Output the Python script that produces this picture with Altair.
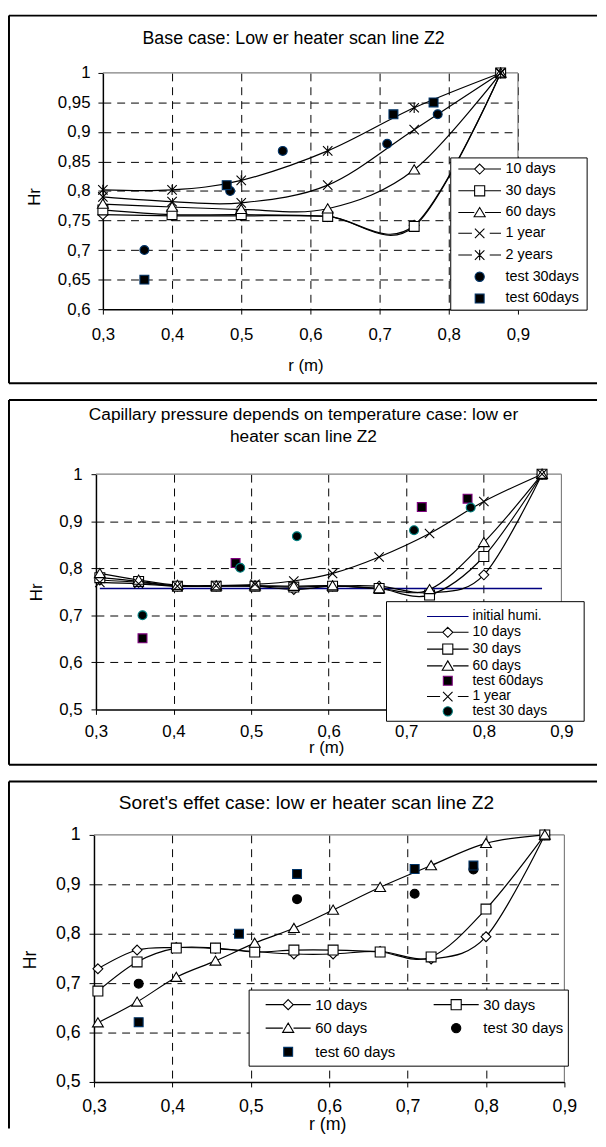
import altair as alt
import pandas as pd

FONT = "Liberation Sans"

X_TICKS = [0.3, 0.4, 0.5, 0.6, 0.7, 0.8, 0.9]
Y_TICKS_1 = [0.6, 0.65, 0.7, 0.75, 0.8, 0.85, 0.9, 0.95, 1.0]
Y_TICKS_23 = [0.5, 0.6, 0.7, 0.8, 0.9, 1.0]

# ---------------- Panel 1 : base case ----------------
p1_r = [0.3, 0.4, 0.5, 0.625, 0.75, 0.875]
p1_10d = [0.760, 0.758, 0.758, 0.757, 0.742, 1.0]
p1_30d = [0.768, 0.760, 0.760, 0.757, 0.740, 1.0]
p1_60d = [0.778, 0.773, 0.769, 0.770, 0.836, 1.0]
p1_1y = [0.790, 0.782, 0.780, 0.810, 0.904, 1.0]
p1_2y = [0.802, 0.802, 0.818, 0.868, 0.941, 1.0]
p1_t30_r = [0.36, 0.484, 0.56, 0.711, 0.784]
p1_t30 = [0.70, 0.80, 0.868, 0.88, 0.93]
p1_t60_r = [0.36, 0.479, 0.72, 0.778]
p1_t60 = [0.65, 0.81, 0.93, 0.95]

# ---------------- Panel 2 : capillary pressure ----------------
p2_r = [0.305, 0.355, 0.405, 0.455, 0.505, 0.555, 0.605, 0.665, 0.73, 0.8, 0.875]
p2_init_r = [0.305, 0.875]
p2_init = [0.757, 0.757]
p2_10d = [0.775, 0.770, 0.762, 0.762, 0.762, 0.755, 0.762, 0.762, 0.748, 0.786, 1.0]
p2_30d = [0.780, 0.772, 0.762, 0.762, 0.762, 0.760, 0.762, 0.757, 0.743, 0.825, 1.0]
p2_60d = [0.789, 0.775, 0.764, 0.763, 0.763, 0.762, 0.763, 0.757, 0.755, 0.855, 1.0]
p2_1y = [0.770, 0.767, 0.762, 0.763, 0.766, 0.773, 0.789, 0.824, 0.874, 0.942, 1.0]
p2_t60_r = [0.36, 0.48, 0.72, 0.779]
p2_t60 = [0.651, 0.811, 0.93, 0.948]
p2_t30_r = [0.36, 0.486, 0.559, 0.71, 0.783]
p2_t30 = [0.70, 0.801, 0.868, 0.881, 0.929]

# ---------------- Panel 3 : Soret effect ----------------
p3_r = [0.305, 0.355, 0.405, 0.455, 0.505, 0.555, 0.605, 0.665, 0.73, 0.8, 0.875]
p3_10d = [0.729, 0.767, 0.772, 0.770, 0.764, 0.759, 0.759, 0.764, 0.749, 0.794, 1.0]
p3_30d = [0.684, 0.743, 0.771, 0.771, 0.763, 0.767, 0.767, 0.763, 0.753, 0.850, 1.0]
p3_60d = [0.620, 0.662, 0.712, 0.745, 0.781, 0.811, 0.848, 0.894, 0.938, 0.983, 1.0]
p3_t30_r = [0.357, 0.559, 0.709, 0.784]
p3_t30 = [0.699, 0.870, 0.881, 0.930]
p3_t60_r = [0.357, 0.485, 0.559, 0.709, 0.784]
p3_t60 = [0.621, 0.800, 0.921, 0.931, 0.938]


def make_df(series):
    rows = []
    for name, rs, vals in series:
        for r, v in zip(rs, vals):
            rows.append({"series": name, "r": r, "Hr": v})
    return pd.DataFrame(rows)


ONE = pd.DataFrame({"k": [0]})

# ---- marker shapes (unit paths) ----
def p_diamond(h):
    return f"M0,{-h}L{h},0L0,{h}L{-h},0Z"

def p_square(h):
    return f"M{-h},{-h}L{h},{-h}L{h},{h}L{-h},{h}Z"

def p_tri(h):
    return f"M0,{-h*1.0}L{h*1.1},{h*0.85}L{-h*1.1},{h*0.85}Z"

def p_x(h):
    return f"M{-h},{-h}L{h},{h}M{-h},{h}L{h},{-h}"

def p_star(h):
    return p_x(h) + f"M0,{-h*1.1}L0,{h*1.1}"

def p_circle(r):
    return f"M{-r},0A{r},{r} 0 1,0 {r},0A{r},{r} 0 1,0 {-r},0Z"

def p_line(L, gl, gr):
    return f"M{-L},0L{-gl},0M{gr},0L{L},0"

MK = {
    "diamond": p_diamond(1.0), "square": p_square(1.0), "tri": p_tri(1.0),
    "x": p_x(0.95), "star": p_star(0.95), "circle": p_circle(0.9), "tsq": p_square(0.9),
}


def leg_shape(kind, L):
    if kind == "diamond":
        return p_line(L, 0.85, 0.85) + p_diamond(0.85)
    if kind == "square":
        return p_line(L, 0.85, 0.85) + p_square(0.85)
    if kind == "tri":
        return p_line(L, 0.9, 0.9) + p_tri(0.85)
    if kind == "x":
        return p_line(L, 1.3, 1.7) + p_x(0.8)
    if kind == "star":
        return p_line(L, 1.3, 1.7) + p_star(0.8)
    if kind == "circle":
        return p_circle(0.78)
    if kind == "tsq":
        return p_square(0.75)
    if kind == "line":
        return f"M{-L},0L{L},0"


def rule(x, x2, y, y2=None, color="black", width=2.0):
    enc = dict(x=alt.value(x), y=alt.value(y))
    if x2 is not None:
        enc["x2"] = alt.value(x2)
    if y2 is not None:
        enc["y2"] = alt.value(y2)
    return alt.Chart(ONE).mark_rule(color=color, strokeWidth=width).encode(**enc)


def text(t, x, y, fs):
    return alt.Chart(ONE).mark_text(text=t, font=FONT, fontSize=fs, align="center",
                                    baseline="middle", color="black").encode(
        x=alt.value(x), y=alt.value(y))


def axis_common(P):
    return dict(format="~g", labelExpr="replace(datum.label, '.', ',')",
                labelFont=FONT, labelFontSize=P["tick_fs"], labelColor="black",
                labelFlush=False, labelOverlap=False,
                titleFont=FONT, titleFontSize=P["atitle_fs"], titleFontWeight="normal",
                titleColor="black", titleAlign="center", titleBaseline="middle",
                tickSize=5, tickColor="black", tickWidth=1,
                domainColor="black", domainWidth=1.5,
                grid=True, gridColor="black", gridDash=[8, 6], gridWidth=1)


def build_panel(P):
    off, W, H = P["off"], P["W"], P["H"]
    x = alt.X("r:Q", scale=alt.Scale(domain=[0.3, 0.9], range=[off, W], nice=False, zero=False),
              axis=alt.Axis(values=X_TICKS, title="r (m)", titleX=P["xt"][0], titleY=P["xt"][1],
                            labelPadding=P["x_lp"],
                            gridOpacity={"condition": {"test": P["xgrid_test"], "value": 0}, "value": 1},
                            **axis_common(P)))
    y = alt.Y("Hr:Q", scale=alt.Scale(domain=P["ydom"], nice=False, zero=False),
              axis=alt.Axis(values=P["yticks"], title="Hr", titleX=P["yt"][0], titleY=P["yt"][1],
                            titleAngle=270, offset=-off, labelPadding=P["y_lp"],
                            gridOpacity={"condition": {"test": P["ygrid_test"], "value": 0}, "value": 1},
                            **axis_common(P)))

    layers = []
    # plot-area border (grey, top and right)
    layers.append(rule(off, W, 0, color="#808080", width=1.2))
    layers.append(rule(W, None, 0, H, color="#808080", width=1.2))
    if P.get("init") is not None:
        layers.append(alt.Chart(P["init"]).mark_line(color="#000080", strokeWidth=1.5).encode(x=x, y=y))
    layers.append(alt.Chart(P["lines"]).mark_line(interpolate="cardinal", color="black",
                                                  strokeWidth=1.2).encode(x=x, y=y, detail="series:N"))
    names = P["mk_names"]
    layers.append(alt.Chart(P["markers"]).mark_point(filled=True, opacity=1, strokeWidth=1.1, size=100).encode(
        x=x, y=y,
        shape=alt.Shape("series:N", scale=alt.Scale(domain=names, range=[MK[k] for k in P["mk_kinds"]]), legend=None),
        fill=alt.Fill("series:N", scale=alt.Scale(domain=names, range=P["mk_fill"]), legend=None),
        stroke=alt.Stroke("series:N", scale=alt.Scale(domain=names, range=P["mk_stroke"]), legend=None),
    ))
    # legend box
    bx = P["legbox"]
    layers.append(alt.Chart(ONE).mark_rect(fill="white", stroke="black", strokeWidth=1).encode(
        x=alt.value(bx[0]), x2=alt.value(bx[1]), y=alt.value(bx[2]), y2=alt.value(bx[3])))
    # legend (carrier layer, no marks drawn)
    lg = P["leg"]
    leg = alt.Legend(orient="none", legendX=lg["x"], legendY=lg["y"], title=None, padding=0,
                     direction=lg["dir"],
                     labelFont=FONT, labelFontSize=lg["fs"], labelColor="black", labelLimit=400,
                     symbolSize=144, symbolStrokeWidth=1.1, symbolFillColor="white",
                     symbolStrokeColor="black", symbolOffset=0, labelOffset=lg["lo"],
                     rowPadding=lg["rp"], columns=lg["cols"], columnPadding=lg["cp"])
    lnames = P["leg_names"]
    layers.append(alt.Chart(P["markers"]).mark_point(filled=True, opacity=1).encode(
        x=x, y=y,
        shape=alt.Shape("series:N", scale=alt.Scale(domain=lnames, range=[leg_shape(k, lg["L"]) for k in P["leg_kinds"]]), legend=leg),
        fill=alt.Fill("series:N", scale=alt.Scale(domain=lnames, range=P["leg_fill"]), legend=leg),
        stroke=alt.Stroke("series:N", scale=alt.Scale(domain=lnames, range=P["leg_stroke"]), legend=leg),
    ).transform_filter("false"))
    # panel frame
    fr = P["frame"]
    layers.append(rule(fr["left"], fr["right"], fr["top"], color="black", width=2))
    layers.append(rule(fr["left"], None, fr["top"], fr["bottom"], color="black", width=2))
    if fr.get("draw_bottom", True):
        layers.append(rule(fr["left"], fr["right"], fr["bottom"], color="black", width=2))
    # chart title
    for t, tx, ty in P["titles"]:
        layers.append(text(t, tx, ty, P["title_fs"]))

    return alt.layer(*layers).resolve_scale(
        shape="independent", fill="independent", stroke="independent"
    ).properties(width=W, height=H)


# ---------------- panel specs ----------------
P1 = dict(
    off=9, W=429, H=239, ydom=[0.6, 1.0], yticks=Y_TICKS_1,
    tick_fs=17, atitle_fs=17, x_lp=13, y_lp=8, xt=(214, 57), yt=(-69, 125),
    xgrid_test="datum.value < 0.35", ygrid_test="datum.value > 0.99 || datum.value < 0.61",
    lines=make_df([("10 days", p1_r, p1_10d), ("30 days", p1_r, p1_30d), ("60 days", p1_r, p1_60d),
                   ("1 year", p1_r, p1_1y), ("2 years", p1_r, p1_2y)]),
    markers=make_df([("10 days", p1_r, p1_10d), ("30 days", p1_r, p1_30d), ("60 days", p1_r, p1_60d),
                     ("1 year", p1_r, p1_1y), ("2 years", p1_r, p1_2y),
                     ("test 30days", p1_t30_r, p1_t30), ("test 60days", p1_t60_r, p1_t60)]),
    mk_names=["10 days", "30 days", "60 days", "1 year", "2 years", "test 30days", "test 60days"],
    mk_kinds=["diamond", "square", "tri", "x", "star", "circle", "tsq"],
    mk_fill=["white", "white", "white", "white", "white", "black", "black"],
    mk_stroke=["black", "black", "black", "black", "black", "#003366", "#003366"],
    legbox=(361, 499, 86, 240),
    leg=dict(x=383, y=90, fs=14.5, lo=19, rp=6, cols=1, cp=0, L=3.6, dir="vertical"),
    leg_names=["10 days", "30 days", "60 days", "1 year", "2 years", "test 30days", "test 60days"],
    leg_kinds=["diamond", "square", "tri", "x", "star", "circle", "tsq"],
    leg_fill=["white", "white", "white", "white", "white", "black", "black"],
    leg_stroke=["black", "black", "black", "black", "black", "#003366", "#003366"],
    frame=dict(left=-86, right=509, top=-58, bottom=314),
    titles=[("Base case: Low er heater scan line Z2", 202, -34)], title_fs=18,
)

P2 = dict(
    off=2, W=473, H=238, ydom=[0.5, 1.0], yticks=Y_TICKS_23,
    tick_fs=17, atitle_fs=17, x_lp=9, y_lp=9, xt=(235, 39), yt=(-60, 119),
    xgrid_test="datum.value < 0.35 || datum.value > 0.85",
    ygrid_test="datum.value > 0.99 || datum.value < 0.51",
    init=make_df([("initial humi.", p2_init_r, p2_init)]),
    lines=make_df([("10 days", p2_r, p2_10d), ("30 days", p2_r, p2_30d), ("60 days", p2_r, p2_60d),
                   ("1 year", p2_r, p2_1y)]),
    markers=make_df([("10 days", p2_r, p2_10d), ("30 days", p2_r, p2_30d), ("60 days", p2_r, p2_60d),
                     ("test 60days", p2_t60_r, p2_t60), ("1 year", p2_r, p2_1y),
                     ("test 30 days", p2_t30_r, p2_t30)]),
    mk_names=["10 days", "30 days", "60 days", "test 60days", "1 year", "test 30 days"],
    mk_kinds=["diamond", "square", "tri", "tsq", "x", "circle"],
    mk_fill=["white", "white", "white", "black", "white", "black"],
    mk_stroke=["black", "black", "black", "#800080", "black", "#008080"],
    legbox=(296, 496, 129, 250),
    leg=dict(x=351, y=137, fs=14, lo=18, rp=1.0, cols=1, cp=0, L=3.5, dir="vertical"),
    leg_names=["initial humi.", "10 days", "30 days", "60 days", "test 60days", "1 year", "test 30 days"],
    leg_kinds=["line", "diamond", "square", "tri", "tsq", "x", "circle"],
    leg_fill=["white", "white", "white", "white", "black", "white", "black"],
    leg_stroke=["#000080", "black", "black", "black", "#800080", "black", "#008080"],
    frame=dict(left=-86, right=509, top=-75, bottom=294),
    titles=[("Capillary pressure depends on temperature case: low er", 212, -60),
            ("heater scan line Z2", 212, -38)], title_fs=17.5,
)

P3 = dict(
    off=0, W=476, H=250, ydom=[0.5, 1.0], yticks=Y_TICKS_23,
    tick_fs=18, atitle_fs=18, x_lp=11, y_lp=9, xt=(236, 43), yt=(-64, 126),
    xgrid_test="datum.value < 0.35 || datum.value > 0.85",
    ygrid_test="datum.value > 0.99 || datum.value < 0.51",
    lines=make_df([("10 days", p3_r, p3_10d), ("30 days", p3_r, p3_30d), ("60 days", p3_r, p3_60d)]),
    markers=make_df([("10 days", p3_r, p3_10d), ("30 days", p3_r, p3_30d), ("60 days", p3_r, p3_60d),
                     ("test 30 days", p3_t30_r, p3_t30), ("test 60 days", p3_t60_r, p3_t60)]),
    mk_names=["10 days", "30 days", "60 days", "test 30 days", "test 60 days"],
    mk_kinds=["diamond", "square", "tri", "circle", "tsq"],
    mk_fill=["white", "white", "white", "black", "black"],
    mk_stroke=["black", "black", "black", "black", "#003366"],
    legbox=(157, 480, 157, 234),
    leg=dict(x=189, y=164, fs=15, lo=20, rp=8, cols=2, cp=36, L=3.8, dir="horizontal"),
    leg_names=["10 days", "30 days", "60 days", "test 30 days", "test 60 days"],
    leg_kinds=["diamond", "square", "tri", "circle", "tsq"],
    leg_fill=["white", "white", "white", "black", "black"],
    leg_stroke=["black", "black", "black", "black", "#003366"],
    frame=dict(left=-86, right=509, top=-54, bottom=297, draw_bottom=False),
    titles=[("Soret's effet case: low er heater scan line Z2", 215, -32)], title_fs=19.3,
)

chart = alt.vconcat(build_panel(P1), build_panel(P2), build_panel(P3), spacing=15).properties(
    padding=0
).configure(font=FONT).configure_view(stroke=None)

chart.save("out.html", embed_options={"renderer": "svg", "actions": False})
